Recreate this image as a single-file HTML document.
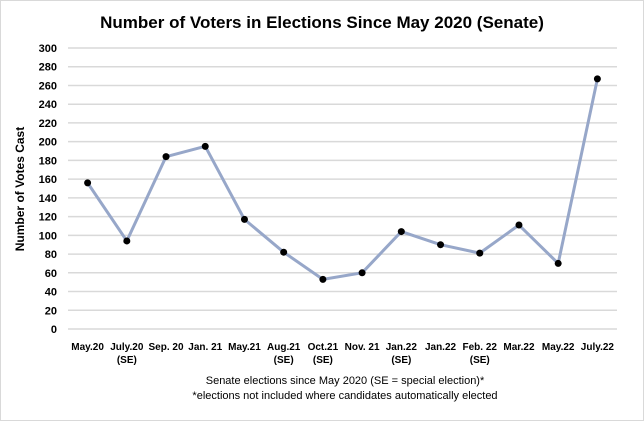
<!DOCTYPE html>
<html><head><meta charset="utf-8"><style>
body{margin:0;background:#fff;}
svg{display:block;font-family:"Liberation Sans",Arial,sans-serif;}
</style></head><body>
<svg id="chart" width="644" height="421">
<rect x="0.5" y="0.5" width="643" height="420" fill="#fff" stroke="#d9d9d9"/>
<text x="322" y="28" text-anchor="middle" font-size="17" font-weight="bold" fill="#000">Number of Voters in Elections Since May 2020 (Senate)</text>
<text transform="translate(24,189) rotate(-90)" text-anchor="middle" font-size="12" font-weight="bold">Number of Votes Cast</text>
<text x="345" y="384" text-anchor="middle" font-size="11">Senate elections since May  2020 (SE = special election)*</text>
<text x="345" y="399" text-anchor="middle" font-size="11">*elections not included where candidates automatically  elected</text>
<g id="grid"></g><g id="xl"></g><g id="series"></g>
</svg>
<script>
const categories=["May.20","July.20","Sep. 20","Jan. 21","May.21","Aug.21","Oct.21","Nov. 21","Jan.22","Jan.22","Feb. 22","Mar.22","May.22","July.22"];
const subLabels=["","(SE)","","","","(SE)","(SE)","","(SE)","","(SE)","","",""];
const votes=[156,94,184,195,117,82,53,60,104,90,81,111,70,267];
const yTicks=[0,20,40,60,80,100,120,140,160,180,200,220,240,260,280,300];
const NS="http://www.w3.org/2000/svg";
const x0=68,x1=617,yb=329,yt=48;
const y=v=>yb-(v/300)*(yb-yt);
const bw=(x1-x0)/categories.length;
const x=i=>x0+bw*(i+0.5);
function mk(t,a,p){const e=document.createElementNS(NS,t);for(const k in a)e.setAttribute(k,a[k]);p.appendChild(e);return e;}
const g=document.getElementById('grid');
yTicks.forEach(v=>{
 const l=mk('line',{x1:x0,x2:x1,y1:y(v),y2:y(v),stroke:'#d9d9d9','stroke-width':1.5},g);
 
 
 const t=mk('text',{x:57,y:y(v)+4,'text-anchor':'end','font-size':11,'font-weight':'bold'},g);
 t.textContent=v;
 
 
});
const xl=document.getElementById('xl');
categories.forEach((c,i)=>{
 const t=mk('text',{x:x(i),y:350,'text-anchor':'middle','font-size':10,'font-weight':'bold'},xl);
 t.textContent=c;
 
 
 if(subLabels[i]){const s=mk('text',{x:x(i),y:363,'text-anchor':'middle','font-size':10,'font-weight':'bold'},xl);
 s.textContent=subLabels[i];
 
 }
});
const sg=document.getElementById('series');
const pl=mk('polyline',{points:votes.map((v,i)=>x(i)+','+y(v)).join(' '),fill:'none',stroke:'#97a7c9','stroke-width':3,'stroke-linejoin':'round'},sg);


votes.forEach((v,i)=>{
 const c=mk('circle',{cx:x(i),cy:y(v),r:3.5,fill:'#000'},sg);
 
 
});
</script>
</body></html>
